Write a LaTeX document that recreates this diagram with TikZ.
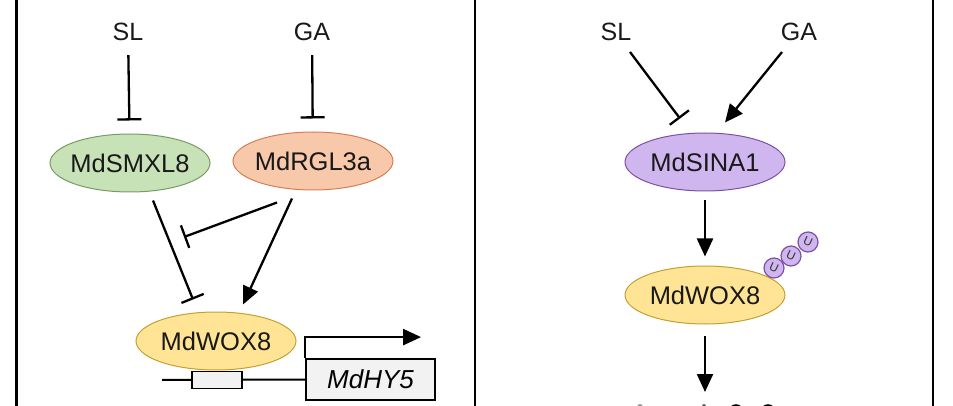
\documentclass[tikz,border=0pt]{standalone}
\usepackage{fontspec}
\setmainfont{Liberation Sans}
\usetikzlibrary{arrows.meta,shapes.geometric}
\definecolor{smxlfill}{RGB}{200,226,184}
\definecolor{smxlline}{RGB}{120,155,100}
\definecolor{rglfill}{RGB}{248,200,170}
\definecolor{rglline}{RGB}{215,125,85}
\definecolor{woxfill}{RGB}{255,228,150}
\definecolor{woxline}{RGB}{195,160,50}
\definecolor{sinafill}{RGB}{208,182,238}
\definecolor{sinaline}{RGB}{125,80,165}
\definecolor{boxfill}{RGB}{242,242,242}
\tikzset{
  prot/.style={ellipse, draw, line width=1pt, minimum width=160pt, minimum height=58pt,
    inner xsep=-5pt, inner ysep=0pt, text=black!90, font=\fontsize{25.5}{25.5}\selectfont},
  hormone/.style={inner sep=3pt, text=black!90, font=\fontsize{25}{25}\selectfont},
  act/.style={-{Triangle[length=18pt,width=16pt]}, line width=2.3pt},
  inh/.style={-{Bar[width=24pt]}, line width=2.3pt},
  ub/.style={circle, draw=sinaline, fill=sinafill, line width=1.2pt, minimum size=20pt,
    inner sep=0pt, text=black!80, font=\fontsize{12}{12}\selectfont},
}
\begin{document}
\begin{tikzpicture}[x=1pt,y=-1pt]
\useasboundingbox (0,0) rectangle (953,406);
\clip (0,0) rectangle (953,406);
% panel borders
\draw [line width=3pt] (16,0) -- (16,406);
\draw [line width=2.5pt] (475,0) -- (475,406);
\draw [line width=2.5pt] (933,0) -- (933,406);
%
% left panel
\node [hormone] (sl1) at (128,32) {SL};
\node [hormone] (ga1) at (312,32) {GA};
\node [prot, fill=smxlfill, draw=smxlline] (smxl) at (130,163) {MdSMXL8};
\node [prot, fill=rglfill, draw=rglline] (rgl) at (313,161) {MdRGL3a};
\node [prot, fill=woxfill, draw=woxline] (wox1) at (216,341) {MdWOX8};
\draw [inh, shorten <=11pt, shorten >=13pt] (sl1) -- (smxl);
\draw [inh, shorten <=11pt, shorten >=13pt] (ga1) -- (rgl);
\draw [inh] ([xshift=23pt,yshift=-8pt]smxl.south) -- ([xshift=-23pt,yshift=12pt]wox1.north);
\coordinate (blk) at (184,237);
\draw [inh] ([xshift=-36pt,yshift=-12pt]rgl.south) -- (blk);
\draw [act] ([xshift=-21pt,yshift=-8pt]rgl.south) -- ([xshift=27pt,yshift=7pt]wox1.north);
% promoter and gene
\coordinate (dnaL) at (162,380);
\node [draw, fill=boxfill, line width=1.8pt, minimum width=129pt, minimum height=41pt,
  inner sep=0pt, font=\fontsize{26}{26}\selectfont\itshape] (hy5) at (370.5,379.5) {MdHY5};
\draw [line width=2pt] (dnaL) -- (hy5.west);
\node [draw, fill=boxfill, line width=1.8pt, minimum width=50pt, minimum height=17pt,
  inner sep=0pt] (cis) at (217,380) {};
\draw [act] (hy5.north west) -- ++(0,-21) -- ++(116,0);
%
% right panel
\node [hormone] (sl2) at (616,32) {SL};
\node [hormone] (ga2) at (799,32) {GA};
\node [prot, fill=sinafill, draw=sinaline] (sina) at (705,162) {MdSINA1};
\node [prot, fill=woxfill, draw=woxline] (wox2) at (705,295) {MdWOX8};
\draw [inh] ([xshift=14pt,yshift=-20pt]sl2.center) -- ([xshift=-25pt,yshift=14pt]sina.north);
\draw [act] ([xshift=-17pt,yshift=-20pt]ga2.center) -- ([xshift=20pt,yshift=10pt]sina.north);
\draw [act, shorten <=9pt, shorten >=9pt] (sina) -- (wox2);
\coordinate (deg) at (705,392);
\draw [act, shorten <=11pt] (wox2) -- (deg);
% ubiquitin chain
\node [ub, rotate=-25] (u1) at (774,268) {U};
\node [ub, rotate=-25] (u2) at (791,256) {U};
\node [ub, rotate=-25] (u3) at (808,242) {U};
% fragments
\draw [line width=1.5pt] (736,412) circle (7);
\draw [line width=1.5pt] (768,412) circle (7);
\fill [black!40] (640,407) circle (3);
\fill [black!60] (704,406) circle (2);
\end{tikzpicture}
\end{document}
